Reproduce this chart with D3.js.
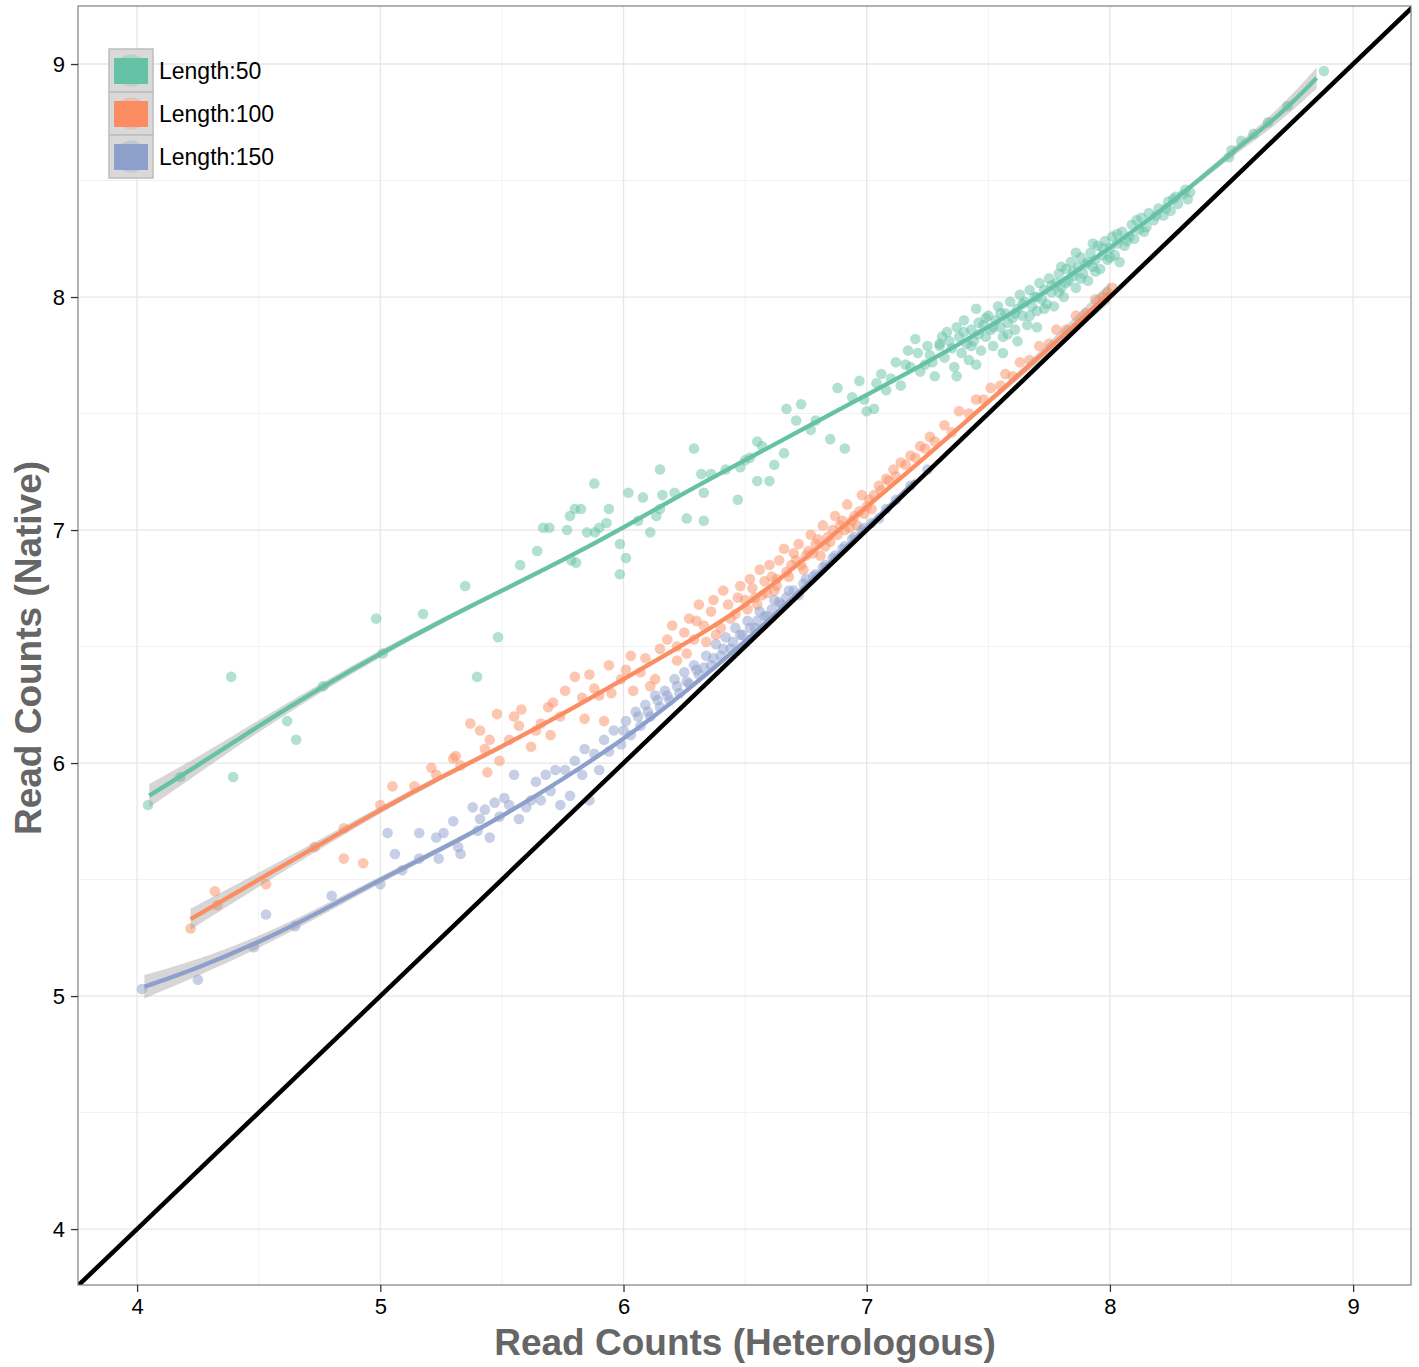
<!DOCTYPE html>
<html><head><meta charset="utf-8">
<script src="https://cdn.jsdelivr.net/npm/d3@7"></script>
<style>body{margin:0;background:#fff}svg{display:block}</style>
</head><body>
<script>
const seriesNames = ["Length:50","Length:100","Length:150"];
const seriesColors = ["#66c2a5","#fc8d62","#8da0cb"];
const xTicks = [4,5,6,7,8,9];
const yTicks = [4,5,6,7,8,9];
const xTitle = "Read Counts (Heterologous)";
const yTitle = "Read Counts (Native)";

const pointsL50 = [
[4.045,5.82],[4.177,5.94],[4.387,6.37],[4.395,5.94],[4.617,6.18],[4.654,6.10],[4.765,6.33],[4.983,6.62],[5.01,6.47],[5.176,6.64],
[5.349,6.76],[5.398,6.37],[5.484,6.54],[5.575,6.85],[5.645,6.91],[5.67,7.01],[5.695,7.01],[5.768,7.0],[5.78,7.06],[5.785,6.87],
[5.80,7.09],[5.805,6.86],[5.825,7.09],[5.85,6.99],[5.88,7.20],[5.883,6.99],[5.90,7.01],[5.93,7.03],[5.94,7.09],[5.985,6.94],
[5.985,6.81],[6.01,6.88],[6.02,7.16],[6.06,7.04],[6.08,7.14],[6.11,6.99],[6.135,7.06],[6.15,7.09],[6.15,7.26],[6.16,7.15],
[6.21,7.16],[6.26,7.05],[6.29,7.35],[6.32,7.24],[6.33,7.16],[6.33,7.04],[6.36,7.24],[6.42,7.26],[6.47,7.13],[6.48,7.27],
[6.50,7.30],[6.52,7.31],[6.55,7.38],[6.55,7.21],[6.57,7.36],[6.60,7.21],[6.62,7.28],[6.66,7.33],[6.67,7.52],[6.71,7.47],
[6.73,7.54],[6.77,7.43],[6.79,7.47],[6.85,7.39],[6.91,7.35],[6.88,7.61],[6.94,7.57],[6.97,7.64],[7.0,7.51],[7.03,7.52],
[7.06,7.67],[7.08,7.60],[7.12,7.72],[7.14,7.62],[7.17,7.77],[7.20,7.82],[7.22,7.68],[7.24,7.71],[7.26,7.75],[7.28,7.66],
[7.30,7.79],[7.30,7.80],[7.32,7.74],[7.33,7.85],[7.35,7.78],[7.36,7.70],[7.38,7.83],[7.39,7.76],[7.40,7.90],[7.41,7.80],
[7.42,7.73],[7.43,7.86],[7.44,7.81],[7.45,7.95],[7.46,7.84],[7.47,7.77],[7.48,7.88],[7.49,7.83],[7.50,7.92],[7.51,7.86],
[7.52,7.79],[7.53,7.90],[7.54,7.96],[7.55,7.87],[7.56,7.83],[7.57,7.93],[7.58,7.89],[7.59,7.98],[7.60,7.91],[7.61,7.86],
[7.62,7.95],[7.63,8.01],[7.64,7.92],[7.65,7.98],[7.66,7.88],[7.67,8.03],[7.68,7.96],[7.69,8.00],[7.70,7.94],[7.71,8.06],
[7.72,7.99],[7.73,8.03],[7.74,7.97],[7.75,8.08],[7.76,8.02],[7.77,7.96],[7.78,8.06],[7.79,8.10],[7.80,8.04],[7.81,8.00],
[7.82,8.12],[7.83,8.07],[7.84,8.15],[7.85,8.09],[7.86,8.04],[7.87,8.13],[7.88,8.17],[7.89,8.10],[7.90,8.14],[7.91,8.07],
[7.92,8.19],[7.93,8.13],[7.94,8.16],[7.95,8.22],[7.96,8.12],[7.97,8.18],[7.98,8.24],[7.99,8.16],[8.00,8.21],[8.01,8.26],
[8.02,8.18],[8.03,8.23],[8.05,8.28],[8.06,8.22],[8.08,8.26],[8.09,8.31],[8.10,8.25],[8.12,8.29],[8.13,8.34],[8.15,8.30],
[8.16,8.36],[8.18,8.33],[8.20,8.38],[8.22,8.35],[8.24,8.41],[8.25,8.37],[8.27,8.43],[8.28,8.40],[8.30,8.44],[8.32,8.42],
[8.33,8.45],[7.37,7.66],[7.45,7.71],[7.56,7.76],[7.62,7.81],[7.70,7.87],[7.80,8.13],[7.86,8.19],[7.93,8.23],[8.04,8.15],
[7.31,7.83],[7.34,7.81],[7.37,7.87],[7.40,7.85],[7.43,7.79],[7.46,7.89],[7.49,7.91],[7.52,7.87],[7.55,7.93],[7.58,7.84],
[7.61,7.93],[7.64,7.97],[7.67,7.92],[7.70,8.00],[7.73,7.95],[7.76,8.05],[7.79,8.02],[7.82,8.06],[7.85,8.11],[7.88,8.08],
[7.91,8.15],[7.94,8.11],[7.97,8.21],[8.00,8.17],[8.03,8.27],[8.07,8.24],[8.11,8.33],[8.14,8.28],[8.19,8.35],[8.23,8.38],
[8.26,8.42],[8.31,8.46],[7.18,7.70],[7.21,7.76],[7.25,7.79],[7.27,7.72],[6.99,7.56],[7.04,7.63],[7.10,7.65],[7.16,7.71],
[8.49,8.60],[8.50,8.63],[8.54,8.67],[8.59,8.70],[8.65,8.75],[8.73,8.82],[8.88,8.97]
];

const pointsL100 = [
[4.22,5.29],[4.32,5.45],[4.33,5.39],[4.53,5.48],[4.73,5.64],[4.85,5.72],[4.85,5.59],[4.93,5.57],[5.0,5.82],[5.05,5.90],
[5.14,5.90],[5.21,5.98],[5.23,5.95],[5.30,6.02],[5.31,6.03],[5.33,5.99],[5.37,6.17],[5.41,6.14],[5.43,6.06],[5.44,5.96],
[5.45,6.10],[5.48,6.21],[5.49,6.01],[5.53,6.10],[5.55,6.20],[5.57,6.16],[5.58,6.23],[5.62,6.07],[5.64,6.14],[5.66,6.17],
[5.69,6.24],[5.70,6.12],[5.71,6.26],[5.74,6.20],[5.76,6.31],[5.80,6.37],[5.83,6.28],[5.84,6.19],[5.86,6.38],[5.88,6.32],
[5.90,6.29],[5.92,6.18],[5.94,6.42],[5.95,6.30],[5.99,6.36],[6.01,6.40],[6.03,6.46],[6.04,6.31],[6.07,6.39],[6.09,6.45],
[6.11,6.33],[6.13,6.36],[6.15,6.49],[6.18,6.53],[6.20,6.59],[6.22,6.44],[6.25,6.56],[6.27,6.62],[6.29,6.53],[6.31,6.68],
[6.33,6.59],[6.36,6.65],[6.38,6.55],[6.41,6.74],[6.43,6.68],[6.46,6.64],[6.48,6.76],[6.50,6.70],[6.52,6.79],[6.54,6.71],
[6.56,6.83],[6.58,6.78],[6.60,6.85],[6.62,6.74],[6.64,6.87],[6.66,6.92],[6.69,6.85],[6.72,6.94],[6.75,6.89],[6.77,6.98],
[6.79,6.94],[6.82,7.02],[6.84,6.97],[6.87,7.06],[6.89,7.02],[6.92,7.11],[6.95,7.06],[6.98,7.15],[7.01,7.13],[7.05,7.19],
[7.08,7.22],[7.11,7.26],[7.14,7.29],[7.18,7.32],[7.22,7.36],[7.26,7.40],[7.32,7.45],[7.38,7.51],[7.45,7.56],[7.51,7.61],
[7.57,7.67],[7.63,7.72],[7.71,7.79],[7.78,7.86],[7.86,7.92],[7.94,7.99],[7.99,8.02],
[6.22,6.50],[6.26,6.47],[6.30,6.61],[6.34,6.52],[6.37,6.70],[6.40,6.58],[6.44,6.62],[6.47,6.71],[6.51,6.66],[6.53,6.75],
[6.57,6.72],[6.61,6.80],[6.63,6.76],[6.67,6.82],[6.70,6.90],[6.73,6.85],[6.76,6.91],[6.80,6.96],[6.83,6.93],[6.86,7.00],
[6.90,7.04],[6.93,7.01],[6.97,7.08],[7.00,7.10],[7.03,7.15],[7.06,7.17],[7.09,7.21],[7.12,7.23],[7.16,7.28],[7.20,7.31],
[7.24,7.35],[7.28,7.38],[7.35,7.42],[7.42,7.50],[7.48,7.56],[7.55,7.62],[7.60,7.66],[7.67,7.73],[7.75,7.80],[7.82,7.86],
[7.90,7.93],[7.97,8.00],[8.01,8.04],
[6.55,6.68],[6.59,6.73],[6.63,6.79],[6.68,6.80],[6.71,6.87],[6.74,6.83],[6.78,6.90],[6.81,6.89],[6.85,6.95],[6.88,6.98],
[6.91,7.00],[6.94,7.04],[6.96,7.02],[6.99,7.07],[7.02,7.09]
];

const pointsL150 = [
[4.02,5.03],[4.25,5.07],[4.48,5.21],[4.53,5.35],[4.65,5.30],[4.80,5.43],[5.0,5.48],[5.03,5.70],[5.06,5.61],[5.09,5.54],
[5.16,5.70],[5.16,5.59],[5.23,5.68],[5.24,5.59],[5.26,5.70],[5.30,5.75],[5.32,5.64],[5.33,5.61],[5.38,5.81],[5.40,5.71],
[5.41,5.76],[5.43,5.80],[5.45,5.68],[5.47,5.83],[5.49,5.77],[5.51,5.85],[5.53,5.82],[5.55,5.95],[5.57,5.76],[5.60,5.81],
[5.62,5.84],[5.64,5.92],[5.66,5.84],[5.68,5.95],[5.70,5.88],[5.72,5.97],[5.74,5.82],[5.76,5.97],[5.78,5.86],[5.80,6.01],
[5.83,5.95],[5.84,6.06],[5.86,5.84],[5.88,6.04],[5.90,5.97],[5.92,6.10],[5.94,6.05],[5.96,6.14],[5.99,6.08],[6.01,6.18],
[6.03,6.12],[6.05,6.22],[6.07,6.16],[6.09,6.25],[6.11,6.20],[6.13,6.29],[6.15,6.24],[6.17,6.31],[6.19,6.27],[6.21,6.36],
[6.23,6.30],[6.25,6.39],[6.27,6.34],[6.29,6.42],[6.31,6.38],[6.34,6.46],[6.36,6.42],[6.38,6.51],[6.40,6.46],[6.42,6.54],
[6.44,6.49],[6.46,6.58],[6.49,6.55],[6.51,6.61],[6.54,6.58],[6.56,6.65],[6.59,6.63],[6.62,6.70],[6.65,6.68],[6.68,6.74],
[6.72,6.72],[6.75,6.79],[6.79,6.81],[6.83,6.85],[6.87,6.89],[6.91,6.93],[6.95,6.97],[6.99,7.01],[7.05,7.05],
[6.00,6.14],[6.06,6.20],[6.10,6.22],[6.14,6.27],[6.18,6.29],[6.22,6.33],[6.26,6.35],[6.30,6.40],[6.33,6.41],[6.37,6.45],
[6.41,6.49],[6.45,6.52],[6.48,6.55],[6.52,6.58],[6.55,6.61],[6.58,6.63],[6.61,6.66],[6.64,6.69],[6.67,6.71],[6.70,6.74],
[6.74,6.77],[6.78,6.80],[6.82,6.84],[6.86,6.88],[6.90,6.92],[6.94,6.96],[6.98,7.00],[7.02,7.03],[7.08,7.09],[7.12,7.13],
[7.18,7.19],[7.25,7.26]
];

// smooth fits: [x, fitted y, half-width of confidence band]
const fitL50 = [
[4.05,5.86,0.05],[4.25,5.99,0.035],[4.5,6.16,0.025],[4.75,6.32,0.02],[5,6.47,0.015],[5.25,6.61,0.012],[5.5,6.74,0.01],
[5.75,6.87,0.01],[6,7.01,0.009],[6.25,7.16,0.008],[6.5,7.30,0.008],[6.75,7.44,0.007],[7,7.58,0.006],[7.25,7.72,0.006],
[7.5,7.87,0.005],[7.75,8.03,0.005],[8,8.21,0.006],[8.25,8.40,0.01],[8.5,8.62,0.018],[8.7,8.78,0.03],[8.85,8.94,0.045]
];
const fitL100 = [
[4.22,5.33,0.045],[4.5,5.50,0.03],[4.75,5.65,0.02],[5,5.80,0.015],[5.25,5.94,0.012],[5.5,6.07,0.01],[5.75,6.21,0.009],
[6,6.36,0.008],[6.25,6.51,0.007],[6.5,6.67,0.006],[6.75,6.88,0.006],[7,7.10,0.006],[7.25,7.32,0.008],[7.5,7.55,0.012],
[7.75,7.78,0.022],[8,8.02,0.045]
];
const fitL150 = [
[4.03,5.04,0.05],[4.25,5.12,0.035],[4.5,5.23,0.025],[4.75,5.36,0.02],[5,5.50,0.015],[5.25,5.63,0.012],[5.5,5.77,0.01],
[5.75,5.93,0.008],[6,6.10,0.007],[6.25,6.30,0.006],[6.5,6.52,0.006],[6.75,6.76,0.006],[7,7.01,0.008],[7.2,7.21,0.015]
];

const pointSets = [pointsL50, pointsL100, pointsL150];
const fitSets = [fitL50, fitL100, fitL150];

const W = 1419, H = 1367;
const P = {left:78, right:1411, top:6, bottom:1285};
const xDomain = [3.757, 9.238], yDomain = [3.76, 9.249];
const FONT = "'Liberation Sans', Arial, Helvetica, sans-serif";

const svg = d3.select("body").append("svg").attr("width", W).attr("height", H);
const x = d3.scaleLinear().domain(xDomain).range([P.left, P.right]);
const y = d3.scaleLinear().domain(yDomain).range([P.bottom, P.top]);

svg.append("defs").append("clipPath").attr("id","clip")
  .append("rect").attr("x",P.left).attr("y",P.top).attr("width",P.right-P.left).attr("height",P.bottom-P.top);

// grid
const g = svg.append("g");
const minorX = xTicks.map(t=>t-0.5).concat([xTicks[xTicks.length-1]+0.5]).filter(v=>v>xDomain[0]&&v<xDomain[1]);
const minorY = yTicks.map(t=>t-0.5).concat([yTicks[yTicks.length-1]+0.5]).filter(v=>v>yDomain[0]&&v<yDomain[1]);
g.selectAll(".mx").data(minorX).join("line").attr("x1",d=>x(d)).attr("x2",d=>x(d)).attr("y1",P.top).attr("y2",P.bottom)
  .attr("stroke","#f2f2f2").attr("stroke-width",1);
g.selectAll(".my").data(minorY).join("line").attr("y1",d=>y(d)).attr("y2",d=>y(d)).attr("x1",P.left).attr("x2",P.right)
  .attr("stroke","#f2f2f2").attr("stroke-width",1);
g.selectAll(".Mx").data(xTicks).join("line").attr("x1",d=>x(d)).attr("x2",d=>x(d)).attr("y1",P.top).attr("y2",P.bottom)
  .attr("stroke","#e6e6e6").attr("stroke-width",1.3);
g.selectAll(".My").data(yTicks).join("line").attr("y1",d=>y(d)).attr("y2",d=>y(d)).attr("x1",P.left).attr("x2",P.right)
  .attr("stroke","#e6e6e6").attr("stroke-width",1.3);

const plot = svg.append("g").attr("clip-path","url(#clip)");

// points
pointSets.forEach((pts,i)=>{
  plot.append("g").selectAll("circle").data(pts).join("circle")
    .attr("cx",d=>x(d[0])).attr("cy",d=>y(d[1])).attr("r",5.3)
    .attr("fill",seriesColors[i]).attr("fill-opacity",0.5);
});

// smooth bands and lines
const area = d3.area().curve(d3.curveBasis).x(d=>x(d[0])).y0(d=>y(d[1]-d[2])).y1(d=>y(d[1]+d[2]));
const line = d3.line().curve(d3.curveBasis).x(d=>x(d[0])).y(d=>y(d[1]));
fitSets.forEach((f,i)=>{
  plot.append("path").datum(f).attr("d",area).attr("fill","#999999").attr("fill-opacity",0.4);
  plot.append("path").datum(f).attr("d",line).attr("fill","none").attr("stroke",seriesColors[i]).attr("stroke-width",4.3);
});

// identity line
plot.append("line").attr("x1",x(xDomain[0])).attr("y1",y(xDomain[0])).attr("x2",x(9.3)).attr("y2",y(9.3))
  .attr("stroke","#000").attr("stroke-width",4.5);

// panel border
svg.append("rect").attr("x",P.left).attr("y",P.top).attr("width",P.right-P.left).attr("height",P.bottom-P.top)
  .attr("fill","none").attr("stroke","#7f7f7f").attr("stroke-width",1.2);

// axes
const xAxis = svg.append("g").attr("transform",`translate(0,${P.bottom})`)
  .call(d3.axisBottom(x).tickValues(xTicks).tickFormat(d3.format("d")).tickSize(7).tickPadding(6));
const yAxis = svg.append("g").attr("transform",`translate(${P.left},0)`)
  .call(d3.axisLeft(y).tickValues(yTicks).tickFormat(d3.format("d")).tickSize(7).tickPadding(6));
[xAxis,yAxis].forEach(a=>{
  a.select(".domain").remove();
  a.selectAll(".tick line").attr("stroke","#333").attr("stroke-width",1.3);
  a.selectAll(".tick text").attr("fill","#000").style("font-family",FONT).style("font-size","22px");
});

// axis titles
svg.append("text").attr("x",745).attr("y",1355).attr("text-anchor","middle")
  .style("font-family",FONT).style("font-size","37px").style("font-weight","bold")
  .attr("fill","#666666").text(xTitle);
svg.append("text").attr("transform",`translate(41,648) rotate(-90)`).attr("text-anchor","middle")
  .style("font-family",FONT).style("font-size","37px").style("font-weight","bold")
  .attr("fill","#666666").text(yTitle);

// legend
const lg = svg.append("g").attr("transform","translate(109,49)");
seriesNames.forEach((name,i)=>{
  const k = lg.append("g").attr("transform",`translate(0,${i*43})`);
  k.append("rect").attr("x",0).attr("y",0).attr("width",44).attr("height",43)
    .attr("fill","#d9d9d9").attr("stroke","#bdbdbd").attr("stroke-width",1.5);
  k.append("circle").attr("cx",22).attr("cy",21.5).attr("r",16).attr("fill",seriesColors[i]).attr("fill-opacity",0.3);
  k.append("rect").attr("x",5).attr("y",9).attr("width",34).attr("height",26).attr("fill",seriesColors[i]);
  k.append("text").attr("x",50).attr("y",30).style("font-family",FONT)
    .style("font-size","23px").attr("fill","#000").text(name);
});
</script>
</body></html>
